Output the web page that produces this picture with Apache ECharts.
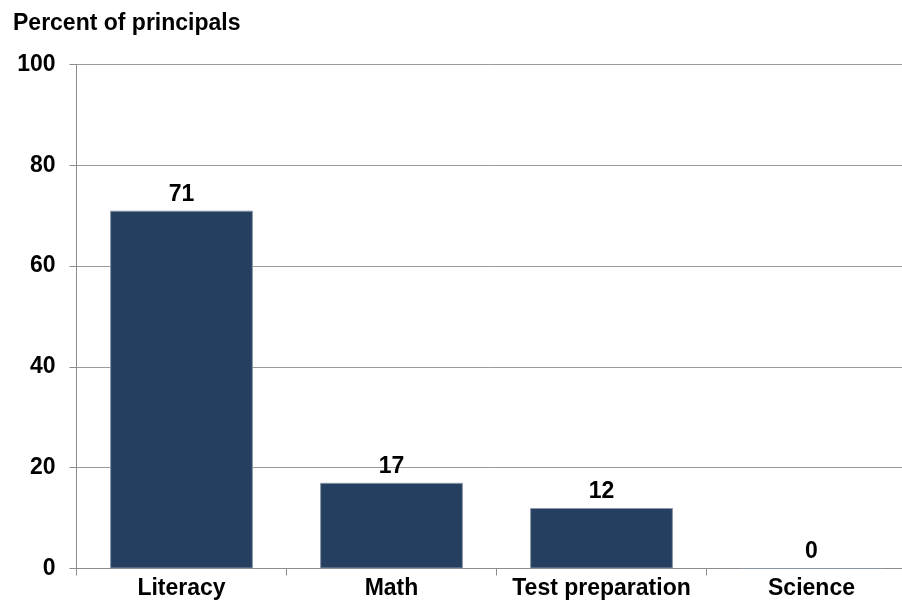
<!DOCTYPE html>
<html>
<head>
<meta charset="utf-8">
<script src="https://cdn.jsdelivr.net/npm/echarts@6/dist/echarts.min.js"></script>
<style>
  html, body { margin: 0; padding: 0; background: #fff; }
  #chart { width: 902px; height: 602px; }
</style>
</head>
<body>
<div id="chart"></div>
<script>
// Instructional focus areas and share of principals choosing each
var categories = ['Literacy', 'Math', 'Test preparation', 'Science'];
var percentValues = [71, 17, 12, 0];
var yTicks = { min: 0, max: 100, interval: 20 };
var axisTitle = 'Percent of principals';

var font = 'Liberation Sans, Arial, sans-serif';
var chart = echarts.init(document.getElementById('chart'), null, { renderer: 'canvas' });

chart.setOption({
  animation: false,
  backgroundColor: '#ffffff',
  title: {
    text: axisTitle,
    left: 8,
    top: 7,
    textStyle: { fontFamily: font, fontWeight: 'bold', fontSize: 23, color: '#000' }
  },
  // plot area runs past the right edge of the page
  grid: { left: 76.5, top: 64.5, width: 840, height: 504, outerBoundsMode: 'none', containLabel: false },
  xAxis: {
    type: 'category',
    data: categories,
    axisLine: { show: true, lineStyle: { color: '#8c8c8c', width: 1 } },
    axisTick: { show: true, alignWithLabel: false, length: 7, lineStyle: { color: '#8c8c8c' } },
    axisLabel: { fontFamily: font, fontWeight: 'bold', fontSize: 23, color: '#000', margin: 9, interval: 0 },
    splitLine: { show: false }
  },
  yAxis: {
    type: 'value',
    min: yTicks.min,
    max: yTicks.max,
    interval: yTicks.interval,
    axisLine: { show: true, lineStyle: { color: '#8c8c8c', width: 1 } },
    axisTick: { show: true, length: 7, lineStyle: { color: '#8c8c8c' } },
    axisLabel: { fontFamily: font, fontWeight: 'bold', fontSize: 23, color: '#000', margin: 21 },
    splitLine: { show: true, lineStyle: { color: '#999999', width: 1 } }
  },
  series: [{
    type: 'bar',
    data: percentValues,
    barCategoryGap: '32%',
    itemStyle: { color: '#243F60', borderColor: '#8a96a6', borderWidth: 1 },
    label: {
      show: true,
      position: 'top',
      distance: 5,
      fontFamily: font,
      fontWeight: 'bold',
      fontSize: 23,
      color: '#000'
    }
  }]
});
</script>
</body>
</html>
